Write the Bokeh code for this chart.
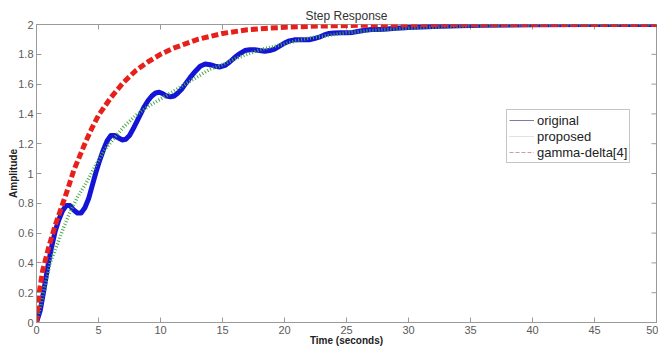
import math
from bokeh.plotting import figure
from bokeh.models import FixedTicker, Range1d, Legend, LegendItem
from bokeh.embed import file_html
from bokeh.resources import INLINE

# ---- data ----
t_original = [0, 0.3, 0.6, 0.9, 1.2, 1.5, 1.8, 2.1, 2.4, 2.7, 3.0, 3.3, 3.6, 3.9, 4.2, 4.5,
              4.8, 5.1, 5.4, 5.7, 6.0, 6.3, 6.6, 6.9, 7.2, 7.5, 7.8, 8.1, 8.4, 8.7, 9.0, 9.3,
              9.6, 9.9, 10.2, 10.5, 10.8, 11.1, 11.4, 11.7, 12.0, 12.4, 12.8, 13.2, 13.6,
              14.0, 14.4, 14.8, 15.2, 15.6, 16.0, 16.4, 16.8, 17.2, 17.6, 18.0, 18.4, 18.8,
              19.2, 19.6, 20.0, 20.4, 20.8, 21.2, 21.6, 22.0, 22.4, 22.8, 23.2, 23.6, 24.0,
              24.5, 25, 25.5, 26, 26.5, 27, 27.5, 28, 29, 30, 31, 32, 34, 36, 40, 45, 50]
y_original = [0, 0.08, 0.22, 0.37, 0.50, 0.61, 0.69, 0.75, 0.785, 0.785, 0.755, 0.735, 0.735,
              0.77, 0.83, 0.92, 1.01, 1.09, 1.16, 1.22, 1.255, 1.255, 1.24, 1.225, 1.23, 1.255,
              1.30, 1.35, 1.40, 1.45, 1.49, 1.52, 1.54, 1.545, 1.535, 1.52, 1.515, 1.52, 1.54,
              1.565, 1.60, 1.645, 1.685, 1.72, 1.735, 1.73, 1.72, 1.715, 1.725, 1.75, 1.78,
              1.805, 1.825, 1.83, 1.83, 1.825, 1.82, 1.825, 1.835, 1.855, 1.875, 1.89, 1.897,
              1.898, 1.897, 1.898, 1.905, 1.915, 1.93, 1.94, 1.943, 1.945, 1.945, 1.947, 1.955,
              1.962, 1.966, 1.967, 1.968, 1.975, 1.98, 1.984, 1.987, 1.992, 1.995, 1.998, 2.0,
              2.0]

t_proposed = [0, 0.3, 1.1, 1.7, 2.2, 2.75, 3.3, 4.1, 4.8, 5.5, 6.5, 7.0, 8.0, 9.0, 10, 11, 12,
              13, 14, 15, 16, 17, 18, 19, 20, 21, 22, 23, 25, 27, 30, 35, 40, 50]
y_proposed = [0, 0.10, 0.40, 0.53, 0.64, 0.75, 0.84, 0.95, 1.06, 1.16, 1.26, 1.31, 1.39, 1.45,
              1.50, 1.55, 1.60, 1.65, 1.70, 1.73, 1.77, 1.80, 1.83, 1.85, 1.87, 1.89, 1.91,
              1.92, 1.945, 1.96, 1.975, 1.99, 1.995, 2.0]

t_gamma = [0, 0.2, 0.5, 1, 1.5, 2, 2.5, 3, 3.5, 4, 4.5, 5, 6, 7, 8, 9, 10, 11, 12, 13, 14, 15,
           17, 20, 23, 27, 32, 40, 50]
y_gamma = [0, 0.19, 0.35, 0.51, 0.65, 0.77, 0.89, 1.02, 1.12, 1.22, 1.31, 1.39, 1.51, 1.61,
           1.69, 1.75, 1.80, 1.84, 1.87, 1.90, 1.92, 1.94, 1.965, 1.982, 1.99, 1.996, 2.0, 2.0,
           2.0]

x_ticks = [0, 5, 10, 15, 20, 25, 30, 35, 40, 45, 50]
x_tick_labels = ["0", "5", "10", "15", "20", "25", "30", "35", "40", "45", "50"]
y_ticks = [0, 0.2, 0.4, 0.6, 0.8, 1.0, 1.2, 1.4, 1.6, 1.8, 2.0]
y_tick_labels = ["0", "0.2", "0.4", "0.6", "0.8", "1", "1.2", "1.4", "1.6", "1.8", "2"]

series_labels = ["original", "proposed", "gamma-delta[4]"]

FONT = "Liberation Sans"
AX_COL = "#9a9a9a"
X_MIN, X_MAX, Y_MIN, Y_MAX = 0, 50, 0, 2

p = figure(width=658, height=349, output_backend="svg", toolbar_location=None,
           x_range=Range1d(X_MIN, X_MAX), y_range=Range1d(Y_MIN, Y_MAX), title="Step Response",
           min_border_left=36, min_border_right=2, min_border_top=24, min_border_bottom=27)

p.title.align = "center"
p.title.text_font = FONT
p.title.text_font_size = "12px"
p.title.text_font_style = "normal"
p.title.text_color = "#333333"
p.title.standoff = 4

p.grid.visible = False
p.outline_line_color = AX_COL
p.background_fill_color = "white"
p.border_fill_color = "white"


def style_axis(ax, ticks, labels):
    ax.ticker = FixedTicker(ticks=ticks)
    ax.axis_line_color = AX_COL
    ax.major_tick_line_color = AX_COL
    ax.major_tick_in = 5
    ax.major_tick_out = 0
    ax.minor_tick_line_color = None
    ax.major_label_text_font = FONT
    ax.major_label_text_color = "#5a5a5a"
    ax.major_label_overrides = {tk: lb for tk, lb in zip(ticks, labels)}
    ax.major_label_text_font_size = "11px"
    ax.major_label_standoff = 3
    ax.axis_label_text_font = FONT
    ax.axis_label_text_font_size = "10px"
    ax.axis_label_text_font_style = "bold"
    ax.axis_label_text_color = "#222222"


style_axis(p.xaxis[0], x_ticks, x_tick_labels)
style_axis(p.yaxis[0], y_ticks, y_tick_labels)
p.xaxis.axis_label = "Time (seconds)"
p.yaxis.axis_label = "Amplitude"
p.xaxis.axis_label_standoff = -2
p.yaxis.axis_label_standoff = -4

# inward ticks on the top and right edges of the box (clipped to the frame)
p.scatter(x_ticks, [Y_MAX] * len(x_ticks), marker="dash", size=10, angle=math.pi / 2,
          line_color=AX_COL, line_width=1)
p.scatter([X_MAX] * len(y_ticks), y_ticks, marker="dash", size=10,
          line_color=AX_COL, line_width=1)

BLUE = "#1414d8"
GREEN = "#4aa84a"
RED = "#e8201c"

p.line(t_original, y_original, line_color=BLUE, line_width=5, line_join="round", line_cap="round")
p.line(t_proposed, y_proposed, line_color=GREEN, line_width=3.5, line_dash="1 2")
p.line(t_gamma, y_gamma, line_color=RED, line_width=5, line_dash="7 3")

# thin legend samples (no visible data)
nan = [float("nan")]
l1 = p.line(nan, nan, line_color="#7c7cac", line_width=1)
l2 = p.line(nan, nan, line_color="#b8ccb8", line_width=1, line_dash="1 1")
l3 = p.line(nan, nan, line_color="#d29a9a", line_width=1, line_dash="4 2")

legend = Legend(items=[LegendItem(label=series_labels[0], renderers=[l1]),
                       LegendItem(label=series_labels[1], renderers=[l2]),
                       LegendItem(label=series_labels[2], renderers=[l3])],
                location=(470, 159))
legend.label_text_font = FONT
legend.label_text_font_size = "13px"
legend.label_text_color = "#222222"
legend.label_height = 16
legend.glyph_height = 16
legend.glyph_width = 25
legend.label_standoff = 3
legend.padding = 2
legend.spacing = 0
legend.margin = 0
legend.border_line_color = "#8a8a8a"
legend.background_fill_alpha = 1
p.add_layout(legend)

open("out.html", "w").write(file_html(p, INLINE))
